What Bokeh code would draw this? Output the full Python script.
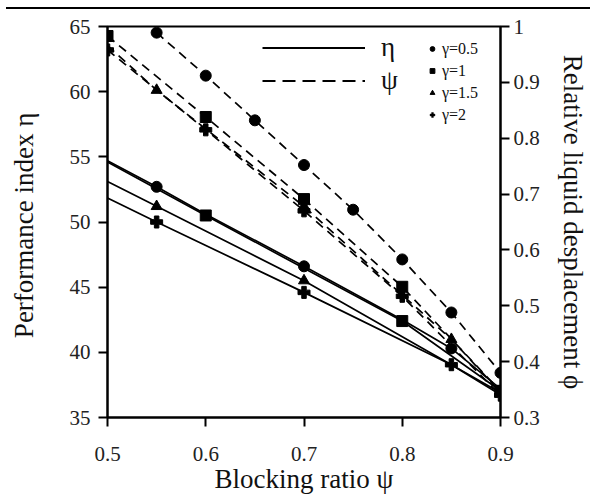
from bokeh.plotting import figure
from bokeh.models import (Range1d, LinearAxis, FixedTicker, Legend, LegendItem,
                          Div, ColumnDataSource)
from bokeh.layouts import column
from bokeh.embed import file_html
from bokeh.resources import INLINE

FONT = "Liberation Serif"
NAN = float("nan")

# ---------------- data ----------------
# Performance index eta (left axis), solid lines
eta_x_g05 = [0.5, 0.55, 0.6, 0.7, 0.8, 0.85, 0.9]
eta_y_g05 = [54.7, 52.7, 50.6, 46.6, 42.5, 40.3, 37.2]
eta_mx_g05 = [0.55, 0.7, 0.85]
eta_my_g05 = [52.7, 46.6, 40.3]

eta_x_g1 = [0.5, 0.6, 0.8, 0.9]
eta_y_g1 = [54.6, 50.5, 42.4, 37.05]
eta_mx_g1 = [0.6, 0.8, 0.9]
eta_my_g1 = [50.5, 42.4, 37.05]

eta_x_g15 = [0.5, 0.55, 0.7, 0.9]
eta_y_g15 = [53.1, 51.2, 45.5, 36.9]
eta_mx_g15 = [0.55, 0.7]
eta_my_g15 = [51.2, 45.5]

eta_x_g2 = [0.5, 0.55, 0.7, 0.85, 0.9]
eta_y_g2 = [51.85, 50.0, 44.6, 39.05, 36.75]
eta_mx_g2 = [0.55, 0.7, 0.85]
eta_my_g2 = [50.0, 44.6, 39.05]

# Relative liquid displacement phi (right axis), dashed lines
phi_x_g05 = [0.55, 0.6, 0.65, 0.7, 0.75, 0.8, 0.85, 0.9]
phi_y_g05 = [0.989, 0.912, 0.832, 0.752, 0.672, 0.583, 0.488, 0.380]

phi_x_g1 = [0.5, 0.6, 0.7, 0.8, 0.9]
phi_y_g1 = [0.983, 0.838, 0.691, 0.534, 0.347]

phi_x_g15 = [0.5, 0.55, 0.7, 0.85, 0.9]
phi_y_g15 = [0.966, 0.886, 0.678, 0.440, 0.345]
phi_mx_g15 = [0.55, 0.7, 0.85]
phi_my_g15 = [0.886, 0.678, 0.440]

phi_x_g2 = [0.5, 0.6, 0.7, 0.8, 0.9]
phi_y_g2 = [0.958, 0.815, 0.670, 0.517, 0.340]

x_ticks = [0.5, 0.6, 0.7, 0.8, 0.9]
eta_ticks = [35, 40, 45, 50, 55, 60, 65]
phi_ticks = [0.3, 0.4, 0.5, 0.6, 0.7, 0.8, 0.9, 1]

gamma_labels = ["\u03b3=0.5", "\u03b3=1", "\u03b3=1.5", "\u03b3=2"]
gamma_markers = ["circle", "square", "triangle", "plus"]
gamma_legend_sizes = [7, 7, 7, 10]
style_labels = ["\u03b7", "\u03c8"]

# ---------------- figure ----------------
p = figure(width=590, height=487, x_range=Range1d(0.5, 0.9), y_range=Range1d(35, 65),
           output_backend="svg", toolbar_location=None,
           min_border_left=107, min_border_right=88, min_border_top=17, min_border_bottom=76)
p.extra_y_ranges = {"phi": Range1d(0.3, 1.0)}
p.grid.visible = False
p.outline_line_color = "black"
p.outline_line_width = 2
p.background_fill_color = "white"
p.border_fill_color = "white"

def style_axis(ax):
    ax.axis_line_width = 2
    ax.axis_line_color = "black"
    ax.major_tick_line_width = 2
    ax.major_tick_line_color = "black"
    ax.major_tick_in = 0
    ax.major_tick_out = 9
    ax.minor_tick_line_color = None
    ax.major_label_text_font = FONT
    ax.major_label_text_font_size = "21px"
    ax.major_label_text_color = "#222222"
    ax.axis_label_text_font = FONT
    ax.axis_label_text_font_size = "27px"
    ax.axis_label_text_font_style = "normal"
    ax.axis_label_text_color = "#111111"

xa = p.xaxis[0]
xa.ticker = FixedTicker(ticks=x_ticks)
xa.axis_label = "Blocking ratio \u03c8"
style_axis(xa)
xa.major_label_standoff = 20
xa.axis_label_standoff = 0

ya = p.yaxis[0]
ya.ticker = FixedTicker(ticks=eta_ticks)
ya.axis_label = "Performance index  \u03b7"
style_axis(ya)
ya.major_label_standoff = 8
ya.axis_label_standoff = 28

ra = LinearAxis(y_range_name="phi", ticker=FixedTicker(ticks=phi_ticks),
                axis_label="Relative liquid desplacement \u03d5")
style_axis(ra)
ra.major_label_standoff = 4
ra.axis_label_standoff = 15
ra.major_label_overrides = {1: "1"}
p.add_layout(ra, "right")

LW = 1.7
DASH = "9 6"

# solid eta lines
for xs, ys in [(eta_x_g05, eta_y_g05), (eta_x_g1, eta_y_g1),
               (eta_x_g15, eta_y_g15), (eta_x_g2, eta_y_g2)]:
    p.line(xs, ys, line_color="black", line_width=LW)

# dashed phi lines
for xs, ys in [(phi_x_g05, phi_y_g05), (phi_x_g1, phi_y_g1),
               (phi_x_g15, phi_y_g15), (phi_x_g2, phi_y_g2)]:
    p.line(xs, ys, line_color="black", line_width=LW, line_dash=DASH, y_range_name="phi")

MS = 11
# eta markers
p.scatter(eta_mx_g05, eta_my_g05, marker="circle", size=MS, color="black")
p.scatter(eta_mx_g1, eta_my_g1, marker="square", size=MS, color="black")
p.scatter(eta_mx_g15, eta_my_g15, marker="triangle", size=MS, color="black")
p.scatter(eta_mx_g2, eta_my_g2, marker="plus", size=MS + 1, color="black")
# phi markers
p.scatter(phi_x_g05, phi_y_g05, marker="circle", size=MS, color="black", y_range_name="phi")
p.scatter(phi_x_g1, phi_y_g1, marker="square", size=MS, color="black", y_range_name="phi")
p.scatter(phi_mx_g15, phi_my_g15, marker="triangle", size=MS, color="black", y_range_name="phi")
p.scatter(phi_x_g2, phi_y_g2, marker="plus", size=MS + 1, color="black", y_range_name="phi")

# legend proxies (one NaN point each, so nothing is drawn in the plot area)
proxy = ColumnDataSource(data=dict(x=[NAN], y=[NAN]))
r_solid = p.line("x", "y", source=proxy, line_color="black", line_width=2)
r_dash = p.line("x", "y", source=proxy, line_color="black", line_width=2, line_dash="13 7")
leg1 = Legend(items=[LegendItem(label=style_labels[0], renderers=[r_solid]),
                     LegendItem(label=style_labels[1], renderers=[r_dash])],
              location=(155, 320), glyph_width=103, glyph_height=33, label_height=33,
              spacing=0, label_standoff=16, padding=0, margin=0,
              label_text_font=FONT, label_text_font_size="27px", label_text_color="#111111",
              border_line_alpha=0, background_fill_alpha=0)
p.add_layout(leg1)

mk_items = []
for lab, mk, sz in zip(gamma_labels, gamma_markers, gamma_legend_sizes):
    r = p.scatter("x", "y", source=proxy, marker=mk, size=sz, color="black",
                  line_width=0.5 if mk == "plus" else 1)
    mk_items.append(LegendItem(label=lab, renderers=[r]))
leg2 = Legend(items=mk_items, location=(319, 293), glyph_width=12, glyph_height=19,
              label_height=19, spacing=3, label_standoff=4, padding=0, margin=0,
              label_text_font=FONT, label_text_font_size="16px", label_text_color="#111111",
              border_line_alpha=0, background_fill_alpha=0)
p.add_layout(leg2)

top_rule = Div(text="", width=584, height=2, margin=(7, 0, 0, 6),
               styles={"background-color": "black"})
layout = column(top_rule, p, spacing=0)

open("out.html", "w").write(file_html(layout, INLINE))
